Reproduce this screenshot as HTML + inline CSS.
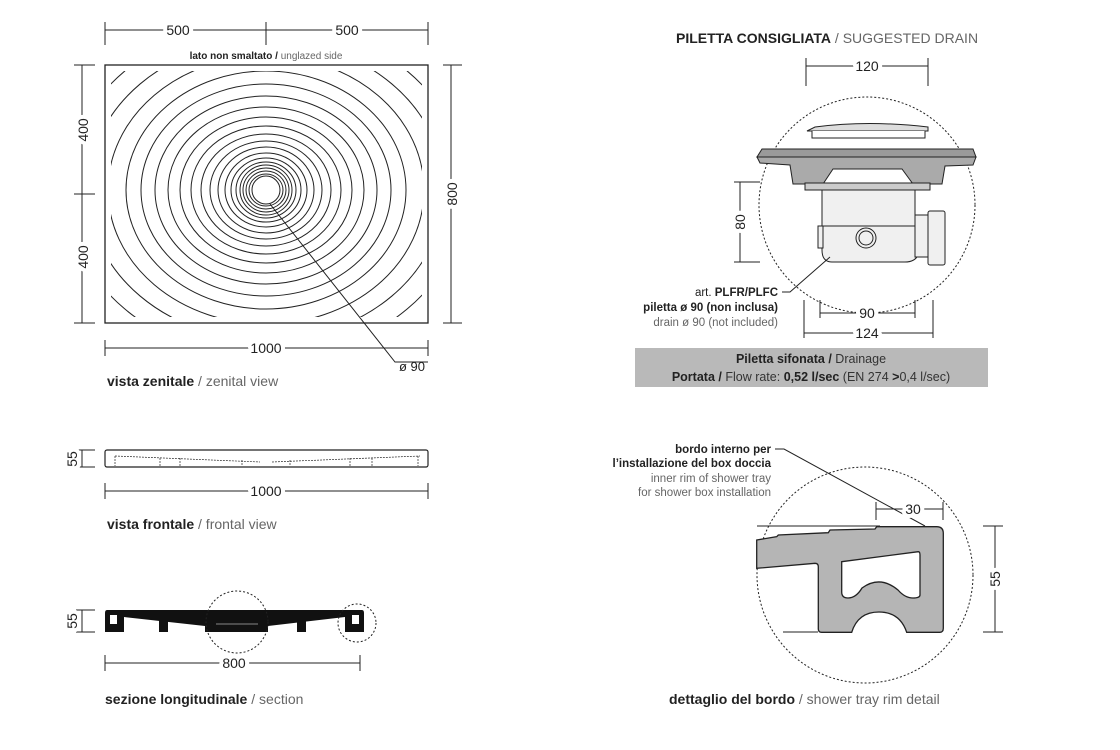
<!DOCTYPE html>
<html><head><meta charset="utf-8"><style>
html,body{margin:0;padding:0;background:#fff;width:1120px;height:750px;overflow:hidden}
svg{display:block}
text{font-family:"Liberation Sans",sans-serif;fill:#222}
.g{fill:#666}
.b{font-weight:bold}
.d text{stroke:#fff;stroke-width:8px;paint-order:stroke;stroke-linejoin:round}
</style></head><body>
<svg width="1120" height="750" viewBox="0 0 1120 750" xmlns="http://www.w3.org/2000/svg">
<defs>
<clipPath id="cr"><rect x="111" y="71" width="311" height="246"/></clipPath>
</defs>
<g stroke="#222" stroke-width="1" fill="none">
<!-- TOP VIEW -->
<rect x="105" y="65" width="323" height="258" stroke-width="1.3"/>
<g clip-path="url(#cr)" stroke-width="1">
<ellipse cx="266" cy="190" rx="14" ry="14"/>
<ellipse cx="266" cy="190" rx="17" ry="16"/>
<ellipse cx="266" cy="190" rx="20" ry="19"/>
<ellipse cx="266" cy="190" rx="23" ry="22"/>
<ellipse cx="266" cy="190" rx="26" ry="25"/>
<ellipse cx="266" cy="190" rx="30" ry="28"/>
<ellipse cx="266" cy="190" rx="35" ry="32"/>
<ellipse cx="266" cy="190" rx="41" ry="37"/>
<ellipse cx="266" cy="190" rx="48" ry="43"/>
<ellipse cx="266" cy="190" rx="56" ry="49"/>
<ellipse cx="266" cy="190" rx="65" ry="56"/>
<ellipse cx="266" cy="190" rx="75" ry="64"/>
<ellipse cx="266" cy="190" rx="86" ry="73"/>
<ellipse cx="266" cy="190" rx="98" ry="83"/>
<ellipse cx="266" cy="190" rx="111" ry="94"/>
<ellipse cx="266" cy="190" rx="125" ry="106"/>
<ellipse cx="266" cy="190" rx="140" ry="119"/>
<ellipse cx="266" cy="190" rx="158" ry="134"/>
<ellipse cx="266" cy="190" rx="178" ry="150"/>
<ellipse cx="266" cy="190" rx="200" ry="168"/>
<ellipse cx="266" cy="190" rx="224" ry="188"/>
</g>
<path d="M105 30H428M105 22V45M266 22V45M428 22V45"/>
<path d="M82 65V323M74 65H95M74 194H95M74 323H95"/>
<path d="M451 65V323M443 65H462M443 323H462"/>
<path d="M105 348H428M105 340V356M428 340V356"/>
<path d="M270 204L395 362H428"/>
<!-- FRONTAL -->
<rect x="105" y="450" width="323" height="17" rx="2" stroke-width="1.2"/>
<path d="M115 456L260 462M272 462L420 456M115 456V466M160 458V466M180 458V466M242 460V466M290 460V466M350 458V466M372 458V466M418 456V466" stroke-dasharray="2 1" stroke-width="0.7"/>
<path d="M82 450V467M76 450H95M76 467H95"/>
<path d="M105 491H428M105 483V499M428 483V499"/>
<!-- SECTION -->
<path d="M107 610H362Q364 610 364 613V632H345V617L268 626V632H205V626L124 617V632H105V613Q105 610 107 610Z" fill="#111" stroke="none"/>
<rect x="110" y="615" width="7" height="9" fill="#fff" stroke="none"/>
<rect x="352" y="615" width="7" height="9" fill="#fff" stroke="none"/>
<rect x="159" y="618" width="9" height="14" fill="#111" stroke="none"/>
<rect x="297" y="618" width="9" height="14" fill="#111" stroke="none"/>
<path d="M216 624H258" stroke="#888"/>
<circle cx="237" cy="622" r="31" stroke-dasharray="2 2"/>
<circle cx="357" cy="623" r="19" stroke-dasharray="2 2"/>
<path d="M82 610V632M76 610H95M76 632H95"/>
<path d="M105 663H360M105 655V671M360 655V671"/>
<!-- DRAIN -->
<circle cx="867" cy="205" r="108" stroke-dasharray="2 2"/>
<path d="M806 66H928M806 58V86M928 58V86"/>
<path d="M815 127Q868 120 928 127V131H807Z" fill="#ddd"/>
<path d="M812 131V138H925V131" fill="#fff"/>
<path d="M762 149H973L976 157H757Z" fill="#9a9a9a"/>
<path d="M757 157H976L973 165L945 166L942 184H913L902 169H833L823 184H793L790 165L760 163Z" fill="#aaa"/>
<rect x="805" y="183" width="125" height="7" fill="#ccc"/>
<path d="M822 190H915V220Q922 224 918 248V255Q915 262 905 262H832Q822 262 822 250Z" fill="#f0f0f0"/>
<path d="M818 226H918" />
<rect x="818" y="226" width="5" height="22" fill="#f0f0f0"/>
<circle cx="866" cy="238" r="10" fill="#f0f0f0"/><circle cx="866" cy="238" r="7"/>
<rect x="915" y="215" width="13" height="42" fill="#f0f0f0"/>
<rect x="928" y="211" width="17" height="54" rx="2" fill="#f0f0f0"/>
<path d="M740 182V262M734 182H760M734 262H760"/>
<path d="M782 292H790L830 257"/>
<path d="M820 313H915M820 300V318M915 300V318"/>
<path d="M804 333H933M804 300V338M933 300V338"/>
<!-- RIM DETAIL -->
<circle cx="865" cy="575" r="108" stroke-dasharray="2 2"/>
<path d="M757 526H880M783 632H818"/>
<path d="M756.7 540L776.7 536.7L778.3 535L828.3 532.7L830 530L875 529L876.7 526.7L936.7 526.7Q943.3 526.7 943.3 533.3V628.3Q943.3 632.3 940 632.3H906.7Q900 612 879 612Q858 612 851.7 632.3H821.7Q818.3 632.3 818.3 629V566.7Q818.3 563.3 815 563.3L756.7 568.3Z" fill="#b5b5b5" stroke-width="1.3"/>
<path d="M841.7 561.7L918.3 551.7Q920 551.7 920 555V595Q920 598 913 598Q905 598 898 590Q880 575 862 588Q856 598 848 598Q841.7 598 841.7 592Z" fill="#fff" stroke-width="1.3"/>
<path d="M775 449H784L925 526"/>
<path d="M876 509H943M876 502V520M943 502V520"/>
<path d="M995 526V632M983 526H1003M983 632H1003"/>
</g>
<rect x="635" y="348" width="353" height="39" fill="#b9b9b9"/>
<!-- TEXT -->
<g font-size="14" class="d">
<text x="178" y="35" text-anchor="middle">500</text>
<text x="347" y="35" text-anchor="middle">500</text>
<text x="266" y="353" text-anchor="middle">1000</text>
<text x="266" y="496" text-anchor="middle">1000</text>
<text x="234" y="668" text-anchor="middle">800</text>
<text x="867" y="71" text-anchor="middle">120</text>
<text x="867" y="318" text-anchor="middle">90</text>
<text x="867" y="338" text-anchor="middle">124</text>
<text x="913" y="514" text-anchor="middle">30</text>
<text transform="translate(88 130) rotate(-90)" text-anchor="middle">400</text>
<text transform="translate(88 257) rotate(-90)" text-anchor="middle">400</text>
<text transform="translate(457 194) rotate(-90)" text-anchor="middle">800</text>
<text transform="translate(77 459) rotate(-90)" text-anchor="middle">55</text>
<text transform="translate(77 621) rotate(-90)" text-anchor="middle">55</text>
<text transform="translate(745 222) rotate(-90)" text-anchor="middle">80</text>
<text transform="translate(1000 579) rotate(-90)" text-anchor="middle">55</text>
</g>
<text x="412" y="371" font-size="13" text-anchor="middle">ø 90</text>
<text x="266" y="59" font-size="10" text-anchor="middle"><tspan class="b">lato non smaltato /</tspan> <tspan class="g">unglazed side</tspan></text>
<g font-size="14">
<text x="107" y="386"><tspan class="b">vista zenitale</tspan> <tspan class="g">/ zenital view</tspan></text>
<text x="107" y="529"><tspan class="b">vista frontale</tspan> <tspan class="g">/ frontal view</tspan></text>
<text x="105" y="704"><tspan class="b">sezione longitudinale</tspan> <tspan class="g">/ section</tspan></text>
<text x="669" y="704"><tspan class="b">dettaglio del bordo</tspan> <tspan class="g">/ shower tray rim detail</tspan></text>
<text x="676" y="43"><tspan class="b">PILETTA CONSIGLIATA</tspan> <tspan class="g">/ SUGGESTED DRAIN</tspan></text>
</g>
<g font-size="11.5" text-anchor="end">
<text x="778" y="296"><tspan>art. </tspan><tspan class="b">PLFR/PLFC</tspan></text>
<text x="778" y="311" class="b">piletta ø 90 (non inclusa)</text>
<text x="778" y="326" class="g">drain ø 90 (not included)</text>
<text x="771" y="453" class="b">bordo interno per</text>
<text x="771" y="467" class="b">l’installazione del box doccia</text>
<text x="771" y="482" class="g">inner rim of shower tray</text>
<text x="771" y="496" class="g">for shower box installation</text>
</g>
<g font-size="12.5" text-anchor="middle">
<text x="811" y="363"><tspan class="b">Piletta sifonata /</tspan> <tspan style="fill:#333">Drainage</tspan></text>
<text x="811" y="381"><tspan class="b">Portata /</tspan> <tspan style="fill:#333">Flow rate:</tspan> <tspan class="b">0,52 l/sec</tspan>   <tspan style="fill:#333">(EN 274 </tspan><tspan class="b">&gt;</tspan><tspan style="fill:#333">0,4 l/sec)</tspan></text>
</g>
</svg>
</body></html>
